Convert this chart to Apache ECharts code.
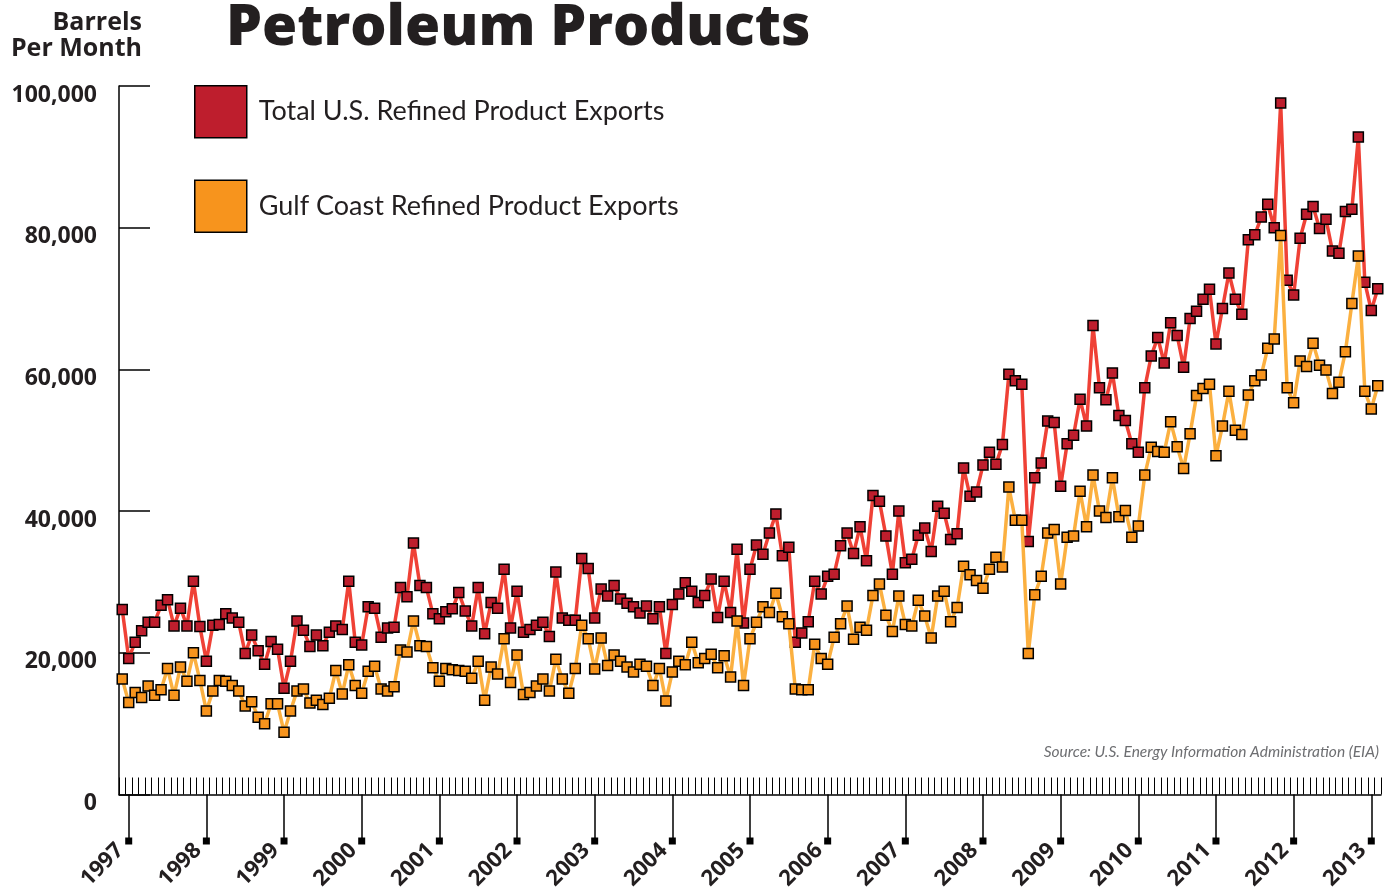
<!DOCTYPE html>
<html>
<head>
<meta charset="utf-8">
<script src="https://cdn.jsdelivr.net/npm/echarts@6/dist/echarts.min.js"></script>
<style>
html,body{margin:0;padding:0;background:#fff;}
#chart{width:1387px;height:890px;}
</style>
</head>
<body>
<div id="chart"></div>
<script>
// ---- Data (barrels per month, monthly Jan 1997 - Mar 2013) ----
const years = [1997,1998,1999,2000,2001,2002,2003,2004,2005,2006,2007,2008,2009,2010,2011,2012,2013];
const monthCodes = ['01','02','03','04','05','06','07','08','09','10','11','12'];

const totalExports = [
 26100,19200,21500,23100,24300,24300,26700,27500,23800,26300,23800,30100,
 23700,18800,23900,24000,25500,24900,24300,19900,22500,20300,18400,21600,
 20500,15000,18800,24500,23200,20900,22500,21000,22900,23800,23300,30100,
 21500,21100,26500,26300,22200,23500,23600,29200,27900,35500,29500,29200,
 25500,24800,25800,26200,28500,25900,23800,29200,22700,27100,26300,31800,
 23500,28700,22900,23300,23900,24300,22300,31400,24900,24600,24600,33300,
 31900,24900,29000,28000,29500,27600,27000,26500,25600,26600,24800,26500,
 19900,26800,28300,29900,28700,27100,28100,30400,25000,30100,25700,34600,
 24200,31800,35200,33900,36900,39600,33700,34900,21500,22800,24400,30100,
 28300,30800,31100,35100,36900,34000,37800,33000,42200,41400,36500,31100,
 40000,32700,33200,36600,37600,34300,40700,39700,36000,36800,46100,42100,
 42700,46500,48300,46600,49400,59300,58400,57900,35700,44700,46800,52700,
 52500,43500,49500,50700,55800,52000,66200,57400,55700,59500,53500,52800,
 49500,48300,57400,61900,64500,60900,66600,64800,60300,67200,68200,69900,
 71300,63600,68600,73600,69900,67800,78300,79000,81500,83300,80000,97600,
 72600,70500,78500,81900,83000,79900,81200,76700,76400,82300,82600,92800,
 72300,68300,71400
];

const gulfExports = [
 16300,13000,14400,13700,15300,14000,14800,17800,14000,18000,16000,20000,
 16100,11800,14600,16100,16000,15400,14600,12500,13100,10900,10000,12800,
 12800,8800,11800,14600,14900,12900,13300,12700,13600,17500,14200,18300,
 15400,14300,17400,18100,14900,14600,15200,20400,20100,24500,21000,20900,
 17900,16000,17800,17600,17500,17400,16400,18800,13300,18000,17000,22000,
 15800,19700,14100,14400,15300,16300,14600,19100,16300,14300,17800,23900,
 22000,17700,22100,18200,19700,18800,18000,17300,18400,18100,15400,17800,
 13200,17300,18800,18300,21500,18600,19200,19800,17900,19600,16600,24500,
 15400,22000,24300,26500,25700,28400,25100,24100,14900,14800,14800,21200,
 19200,18400,22200,24100,26600,21900,23600,23200,28100,29700,25300,23000,
 28000,24000,23800,27400,25200,22100,28000,28700,24400,26400,32200,31000,
 30200,29100,31800,33500,32100,43400,38700,38700,19900,28200,30800,36900,
 37400,29700,36300,36500,42800,37800,45100,40000,39100,44700,39200,40100,
 36300,37900,45100,49000,48400,48300,52600,49100,46000,50900,56300,57300,
 57900,47800,52000,56900,51400,50800,56400,58400,59200,63000,64300,78900,
 57400,55300,61200,60400,63700,60600,59900,56600,58200,62500,69300,76000,
 56900,54400,57700
];

const seriesNames = ['Total U.S. Refined Product Exports', 'Gulf Coast Refined Product Exports'];

// month categories
const months = [];
years.forEach(y => monthCodes.forEach(m => months.push(y + '-' + m)));
months.length = totalExports.length;

const FONT = 'Lato, "Open Sans", sans-serif';
const BOLDFONT = '"Open Sans", Lato, sans-serif';
const isYearTick = (i) => i % 12 === 1;
const fmt = (v) => String(v).replace(/\B(?=(\d{3})+(?!\d))/g, ',');

const chart = echarts.init(document.getElementById('chart'), null, {renderer: 'canvas'});

const option = {
  animation: false,
  backgroundColor: '#ffffff',
  grid: {left: 119, top: 86, width: 1262, height: 708.5, containLabel: false, outerBoundsMode: 'none'},
  legend: {
    orient: 'vertical',
    left: 194, top: 85,
    itemWidth: 52, itemHeight: 52, itemGap: 41,
    padding: 0,
    icon: 'rect',
    data: seriesNames,
    itemStyle: {borderColor: '#000', borderWidth: 1.5},
    textStyle: {fontFamily: FONT, fontSize: 27, color: '#231f20', padding: [0, 0, 0, 7]}
  },
  graphic: [
    {type: 'text', x: 226, y: 29, style: {text: 'Petroleum Products', font: '800 57px "Open Sans", Lato, sans-serif', fill: '#231f20', align: 'left', verticalAlign: 'middle'}},
    {type: 'text', x: 142, y: 23, style: {text: 'Barrels', font: 'bold 25px "Open Sans", Lato, sans-serif', fill: '#231f20', align: 'right', verticalAlign: 'middle'}},
    {type: 'text', x: 142, y: 49, style: {text: 'Per Month', font: 'bold 25px "Open Sans", Lato, sans-serif', fill: '#231f20', align: 'right', verticalAlign: 'middle'}},
    {type: 'text', x: 1379, y: 752, style: {text: 'Source: U.S. Energy Information Administration (EIA)', font: 'italic 15.5px Lato, "Open Sans", sans-serif', fill: '#6d6e71', align: 'right', verticalAlign: 'middle'}}
  ],
  xAxis: [
    {
      type: 'category', data: months, boundaryGap: true,
      axisLine: {show: true, lineStyle: {color: '#000', width: 1.5}},
      axisTick: {show: true, inside: true, length: 17, interval: 0, lineStyle: {color: '#000', width: 1}},
      axisLabel: {show: false},
      splitLine: {show: false}
    },
    {
      type: 'category', data: months, boundaryGap: true, position: 'bottom',
      axisLine: {show: false},
      axisTick: {show: true, alignWithLabel: true, interval: isYearTick, length: 44, lineStyle: {color: '#000', width: 1.5}},
      axisLabel: {show: true, interval: isYearTick, rotate: 45, margin: 44,
        formatter: (v) => v.slice(0, 4), padding: [0, 12, 0, 0],
        fontFamily: BOLDFONT, fontWeight: 'bold', fontSize: 22, color: '#231f20'},
      splitLine: {show: false}
    },
    {
      type: 'category', data: months, boundaryGap: true, position: 'bottom',
      axisLine: {show: false},
      axisTick: {show: false},
      axisLabel: {show: true, interval: isYearTick, margin: 43, verticalAlign: 'top',
        formatter: () => '{sq|}',
        rich: {sq: {width: 7, height: 7, backgroundColor: '#000'}}},
      splitLine: {show: false}
    }
  ],
  yAxis: {
    type: 'value', min: 0, max: 100000, interval: 20000,
    axisLine: {show: true, lineStyle: {color: '#000', width: 1.5}},
    axisTick: {show: true, inside: true, length: 31, lineStyle: {color: '#000', width: 1.5}},
    splitLine: {show: false},
    axisLabel: {margin: 22, fontFamily: BOLDFONT, fontWeight: 'bold', fontSize: 23, color: '#231f20',
      verticalAlign: 'top', lineHeight: 18, formatter: fmt}
  },
  series: [
    {
      name: seriesNames[0], type: 'line', data: totalExports, xAxisIndex: 0,
      symbol: 'rect', symbolSize: 10, showAllSymbol: true,
      lineStyle: {color: '#ef4136', width: 3.5},
      itemStyle: {color: '#be1e2d', borderColor: '#000', borderWidth: 1.5},
      z: 2
    },
    {
      name: seriesNames[1], type: 'line', data: gulfExports, xAxisIndex: 0,
      symbol: 'rect', symbolSize: 10, showAllSymbol: true,
      lineStyle: {color: '#fbb040', width: 3.5},
      itemStyle: {color: '#f7941d', borderColor: '#000', borderWidth: 1.5},
      z: 3
    }
  ]
};
chart.setOption(option);
</script>
</body>
</html>
